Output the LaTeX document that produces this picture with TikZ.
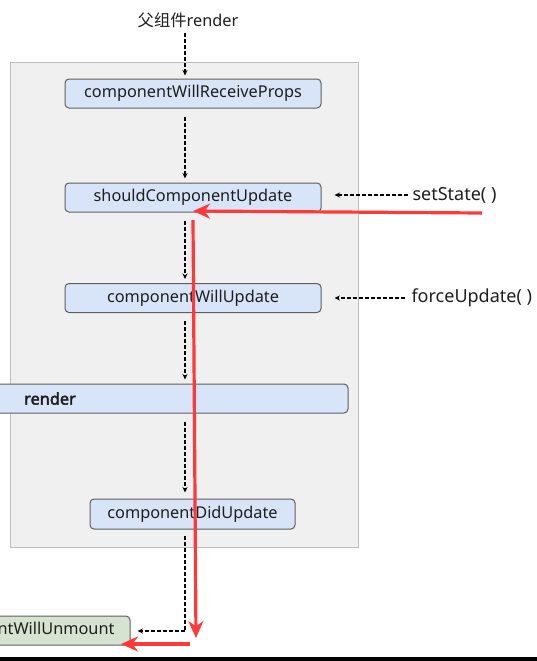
\documentclass[tikz,border=0pt]{standalone}
\usepackage{fontspec}
\setmainfont{Noto Sans}
\newfontfamily\boldface{Noto Sans}[FakeBold=2.5]
\newfontfamily\cjk{Noto Sans CJK SC}
\usetikzlibrary{arrows.meta}
\definecolor{boxblue}{HTML}{D8E5F9}
\definecolor{boxgreen}{HTML}{D6E3D1}
\definecolor{boxedge}{HTML}{5E5E5E}
\definecolor{bggray}{HTML}{F0F0F0}
\definecolor{bgedge}{HTML}{BDBDBD}
\definecolor{redarrow}{HTML}{FF3838}
\definecolor{txt}{HTML}{1E1E1E}
\tikzset{
  every node/.style={font=\fontsize{16.3}{18}\selectfont, text=txt},
  phase/.style={draw=boxedge, line width=1pt, fill=boxblue, rounded corners=4pt, minimum height=29pt, inner sep=0pt},
  unmountbox/.style={phase, fill=boxgreen},
  sidelabel/.style={anchor=west, font=\fontsize{18}{20}\selectfont},
  flow/.style={draw=black, line width=1.2pt, dash pattern=on 4pt off 2pt, -{Stealth[length=5.5pt,width=5pt]}},
  redline/.style={draw=redarrow, line width=3.2pt, -{Stealth[length=17pt,width=15pt]}},
}
\begin{document}
\begin{tikzpicture}[x=1pt,y=-1pt]
\clip (0,0) rectangle (537,661);
\useasboundingbox (0,0) rectangle (537,661);
\fill[white] (0,0) rectangle (537,661);
\draw[bgedge, fill=bggray, line width=0.8pt] (10,62) rectangle (358,547);

\node (parent) at (188,20) {{\cjk 父组件}render};
\node[phase, minimum width=256pt] (cwrp) at (193,93.5) {componentWillReceiveProps};
\node[phase, minimum width=256pt] (scu) at (193,197.5) {shouldComponentUpdate};
\node[phase, minimum width=256pt] (cwu) at (193,298) {componentWillUpdate};
\node[phase, minimum width=596pt] (rend) at (50,398.5) {{\boldface render}};
\node[phase, minimum width=205pt, minimum height=30pt] (cdu) at (192.5,514) {componentDidUpdate};
\node[unmountbox, minimum width=220pt] (cwum) at (20,630.5) {componentWillUnmount};
\node[sidelabel] (setst) at (409,195) {setState( )};
\node[sidelabel] (force) at (408,298) {forceUpdate( )};

\coordinate (ax) at (185,0);
\draw[flow] ([yshift=-2pt]parent.south -| ax) -- ([yshift=3pt]cwrp.north -| ax);
\draw[flow] ([yshift=-8pt]cwrp.south -| ax) -- ([yshift=4pt]scu.north -| ax);
\draw[flow] ([yshift=-8pt]scu.south -| ax) -- ([yshift=4pt]cwu.north -| ax);
\draw[flow] ([yshift=-8pt]cwu.south -| ax) -- ([yshift=4pt]rend.north -| ax);
\draw[flow] ([yshift=-8pt]rend.south -| ax) -- ([yshift=6pt]cdu.north -| ax);
\coordinate (turn) at (185,631);
\draw[flow] ([yshift=-6pt]cdu.south -| ax) -- (turn) -- ([xshift=7pt]cwum.east |- turn);
\draw[flow] ([xshift=-1pt]setst.west) -- ([xshift=13pt]scu.east |- setst);
\draw[flow] ([xshift=-3pt]force.west) -- ([xshift=13pt]cwu.east |- force);

\coordinate (r1s) at (482,213);
\coordinate (r1e) at (193,211);
\coordinate (r2s) at (193,220);
\coordinate (r2e) at (196,638);
\coordinate (r3s) at (190,644);
\coordinate (r3e) at (121,644);
\draw[redline] (r1s) -- (r1e);
\draw[redline] (r2s) -- (r2e);
\draw[redline] (r3s) -- (r3e);

\fill[black] (0,657) rectangle (537,661);
\end{tikzpicture}
\end{document}
